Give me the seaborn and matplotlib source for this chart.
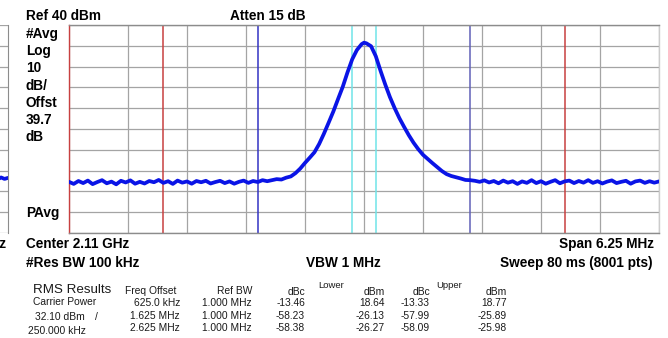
import numpy as np
import pandas as pd
import seaborn as sns
import matplotlib
matplotlib.use("Agg")
import matplotlib.pyplot as plt

# Screen settings
ref_level = 40
db_per_div = 10
span_mhz = 6.25

# Trace (offset from 2.11 GHz centre, MHz / dBm)
trace_mhz = [-3.125, -3.075, -3.025, -2.975, -2.925, -2.875, -2.825, -2.775, -2.725, -2.675,
             -2.625, -2.575, -2.525, -2.475, -2.425, -2.375, -2.325, -2.275, -2.225, -2.175,
             -2.125, -2.075, -2.025, -1.975, -1.925, -1.875, -1.825, -1.775, -1.725, -1.675,
             -1.625, -1.575, -1.525, -1.475, -1.425, -1.375, -1.325, -1.275, -1.225, -1.175,
             -1.125, -1.075, -1.025, -0.975, -0.925, -0.875, -0.825, -0.775, -0.725, -0.675,
             -0.625, -0.575, -0.525, -0.475, -0.425, -0.375, -0.325, -0.275, -0.225, -0.175,
             -0.125, -0.075, -0.025, 0.0, 0.025, 0.075, 0.125, 0.175, 0.225, 0.275,
             0.325, 0.375, 0.425, 0.475, 0.525, 0.575, 0.625, 0.675, 0.725, 0.775,
             0.825, 0.875, 0.925, 0.975, 1.025, 1.075, 1.125, 1.175, 1.225, 1.275,
             1.325, 1.375, 1.425, 1.475, 1.525, 1.575, 1.625, 1.675, 1.725, 1.775,
             1.825, 1.875, 1.925, 1.975, 2.025, 2.075, 2.125, 2.175, 2.225, 2.275,
             2.325, 2.375, 2.425, 2.475, 2.525, 2.575, 2.625, 2.675, 2.725, 2.775,
             2.825, 2.875, 2.925, 2.975, 3.025, 3.075, 3.125]
trace_dbm = [-35.4, -36.4, -35.0, -36.0, -34.8, -36.5, -35.5, -34.6, -36.1, -35.3,
             -36.6, -34.9, -35.7, -34.7, -36.3, -35.4, -36.2, -35.0, -35.6, -34.5,
             -35.9, -35.1, -36.4, -34.8, -35.8, -35.2, -36.3, -35.0, -35.6, -34.9,
             -36.2, -35.5, -34.9, -36.0, -35.2, -36.3, -35.4, -34.8, -35.9, -35.0,
             -35.5, -34.6, -35.1, -34.6, -34.1, -34.3, -33.4, -32.8, -31.2, -29.0,
             -26.3, -23.8, -21.2, -17.2, -12.3, -7.0, -1.6, 4.4, 10.3, 17.2,
             23.5, 28.0, 30.8, 31.5, 31.2, 29.8, 25.0, 18.0, 11.4, 5.3,
             0.0, -4.8, -9.0, -13.0, -16.6, -19.7, -22.4, -24.4, -26.4, -28.3,
             -30.2, -31.7, -32.6, -33.2, -33.8, -34.5, -34.6, -34.9, -35.4, -34.7,
             -35.7, -35.0, -36.1, -34.8, -35.8, -35.1, -36.4, -35.2, -35.9, -34.6,
             -36.0, -35.1, -36.3, -35.4, -34.6, -36.1, -35.2, -34.8, -36.0, -35.0,
             -35.8, -34.6, -35.9, -35.1, -36.2, -35.3, -34.7, -36.0, -35.4, -34.9,
             -36.3, -35.2, -34.8, -35.9, -35.1, -35.8, -35.2]

# Integration band markers (MHz)
red_markers = [-3.125, -2.125, 2.125]
blue_markers = [-1.125, 1.125]
cyan_markers = [-0.125, 0.125]

# Neighbouring screenshot sliver on the far left
side_mhz = [0, 1, 2, 3, 4, 5]
side_dbm = [-33.8, -33.0, -34.2, -33.3, -34.0, -33.5]

# Left annotation column
left_labels = ["#Avg", "Log", "10", "dB/", "Offst", "39.7", "dB"]

# RMS results table
freq_offsets = ["625.0 kHz", "1.625 MHz", "2.625 MHz"]
ref_bw = ["1.000 MHz", "1.000 MHz", "1.000 MHz"]
lower_dbc = ["-13.46", "-58.23", "-58.38"]
lower_dbm = ["18.64", "-26.13", "-26.27"]
upper_dbc = ["-13.33", "-57.99", "-58.09"]
upper_dbm = ["18.77", "-25.89", "-25.98"]

W, H = 668, 338
sns.set_style("white")
plt.rcParams['font.family'] = ['Liberation Sans', 'DejaVu Sans']

fig = plt.figure(figsize=(W / 100, H / 100), dpi=100)
fig.patch.set_facecolor("white")


def box(x0, y0, x1, y1):
    return [x0 / W, 1 - y1 / H, (x1 - x0) / W, (y1 - y0) / H]


def txt(x, y, s, **kw):
    fig.text(x / W, 1 - y / H, s, va="center", **kw)


bottom = ref_level - 10 * db_per_div
xticks = np.linspace(-span_mhz / 2, span_mhz / 2, 11)
yticks = np.arange(bottom, ref_level + 1, db_per_div)

# main display
ax = fig.add_axes(box(69, 25, 659, 233))
df = pd.DataFrame({"mhz": trace_mhz, "dbm": trace_dbm})
ax.set_xlim(-span_mhz / 2, span_mhz / 2)
ax.set_ylim(bottom, ref_level)
ax.set_xticks(xticks)
ax.set_yticks(yticks)
ax.grid(True, color="#a4a4a4", lw=0.9)
ax.tick_params(length=0, labelbottom=False, labelleft=False)
for m in cyan_markers:
    ax.axvline(m, color="#70e4e8", lw=1.1, zorder=2)
for m, c in zip(blue_markers, ["#3333c4", "#6060b8"]):
    ax.axvline(m, color=c, lw=1.1, zorder=2)
for m in red_markers:
    ax.axvline(m, color="#c84040", lw=1.1, zorder=2)
sns.lineplot(data=df, x="mhz", y="dbm", ax=ax, color="#0a14e6", lw=2.7,
             errorbar=None, zorder=3)
ax.set_xlabel("")
ax.set_ylabel("")
for side, c in [("top", "#8c8c8c"), ("bottom", "#8c8c8c"),
                ("left", "#c84040"), ("right", "#cccccc")]:
    ax.spines[side].set_color(c)
    ax.spines[side].set_linewidth(1.0)
    ax.spines[side].set_visible(True)

# sliver of the next screenshot
ax2 = fig.add_axes(box(-30, 25, 8, 233))
ax2.set_xlim(-6, 5)
ax2.set_ylim(bottom, ref_level)
ax2.set_yticks(yticks)
ax2.set_xticks([])
ax2.grid(True, axis="y", color="#a4a4a4", lw=0.9)
ax2.tick_params(length=0, labelleft=False)
sns.lineplot(x=side_mhz, y=side_dbm, ax=ax2, color="#0a14e6", lw=2.7, errorbar=None)
for side in ["top", "bottom", "left"]:
    ax2.spines[side].set_visible(False)
ax2.spines["right"].set_color("#8c8c8c")

# header / footer labels
bold = dict(fontsize=9.8, fontweight="bold", color="black")
txt(26, 16, "Ref 40 dBm", **bold)
txt(230, 16, "Atten 15 dB", **bold)
for i, s in enumerate(left_labels):
    txt(26, 34 + i * 17.2, s, **bold)
txt(26, 213, "PAvg", **bold)
txt(6, 244, "kHz", ha="right", **bold)
txt(26, 244, "Center 2.11 GHz", **bold)
txt(26, 263, "#Res BW 100 kHz", **bold)
txt(306, 263, "VBW 1 MHz", **bold)
txt(654, 244, "Span 6.25 MHz", ha="right", **bold)
txt(653, 263, "Sweep 80 ms (8001 pts)", ha="right", **bold)

# RMS results table
tc = "#1a1a1a"
small = dict(fontsize=7.4, color=tc)
txt(33, 290, "RMS Results", fontsize=9.6, color=tc)
txt(33, 302, "Carrier Power", **small)
txt(35, 317, "32.10 dBm", **small)
txt(95, 317, "/", **small)
txt(28, 331, "250.000 kHz", **small)
txt(125, 291, "Freq Offset", **small)
txt(252, 291, "Ref BW", ha="right", **small)
txt(305, 292, "dBc", ha="right", **small)
txt(318, 285, "Lower", fontsize=6.8, color=tc)
txt(385, 292, "dBm", ha="right", **small)
txt(430, 292, "dBc", ha="right", **small)
txt(436, 285, "Upper", fontsize=6.8, color=tc)
txt(507, 292, "dBm", ha="right", **small)
row_y = [303, 316, 328]
for i, y in enumerate(row_y):
    txt(180, y, freq_offsets[i], ha="right", **small)
    txt(252, y, ref_bw[i], ha="right", **small)
    txt(305, y, lower_dbc[i], ha="right", **small)
    txt(385, y, lower_dbm[i], ha="right", **small)
    txt(430, y, upper_dbc[i], ha="right", **small)
    txt(507, y, upper_dbm[i], ha="right", **small)

fig.savefig("out.png", dpi=100, facecolor="white")
